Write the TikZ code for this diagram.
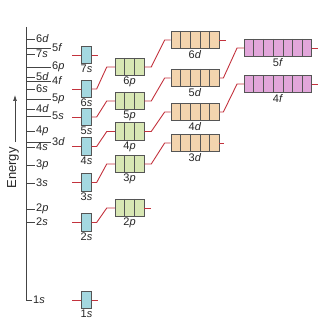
\documentclass[tikz,border=0pt]{standalone}
\usepackage{fontspec}
\setmainfont{Liberation Sans}
\usetikzlibrary{calc,arrows.meta}
\definecolor{sfill}{HTML}{A4D8E0}
\definecolor{pfill}{HTML}{D8E7B4}
\definecolor{dfill}{HTML}{F3D4AE}
\definecolor{ffill}{HTML}{E2A6DA}
\definecolor{redline}{HTML}{C3323D}
\definecolor{edge}{HTML}{555555}
\definecolor{axisc}{HTML}{444444}
\newcommand\olab[2]{#1\textit{#2}}
\newcommand\orb[6]{%
  \node[obox,fill=#5,minimum width=#4*9.6pt] (#1) at (#2,#3) {};
  \ifnum#4>1
    \pgfmathtruncatemacro\nm{#4-1}%
    \foreach \k in {1,...,\nm}{\draw[edge,line width=0.7pt] ($(#1.north west)!\k/#4!(#1.north east)$) -- ($(#1.south west)!\k/#4!(#1.south east)$);}%
  \fi
  \node[lab,anchor=north,inner sep=0.8pt] (#1l) at (#1.south) {#6};
}
\newcommand\tick[3]{% y, end x, label
  \draw[axisln] (26,#1) -- (#2,#1);
  \node[lab,anchor=west,inner sep=1pt] at (#2,#1) {#3};
}
\begin{document}
\begin{tikzpicture}[x=1pt,y=-1pt,
  obox/.style={draw=edge,line width=0.7pt,rectangle,inner sep=0pt,minimum height=17.5pt},
  lab/.style={font=\fontsize{11}{13}\selectfont,text=black!85},
  conn/.style={draw=redline,line width=0.9pt},
  axisln/.style={draw=axisc,line width=0.7pt}]
\useasboundingbox (0,0) rectangle (321,326);
% energy axis
\coordinate (atop) at (26,27);
\coordinate (abot) at (26,300);
\coordinate (afoot) at (32,300);
\draw[axisln] (atop) -- (abot) -- (afoot);
\node[lab,anchor=west,inner sep=1pt] (l1s) at (afoot) {\olab{1}{s}};
\tick{39}{35}{\olab{6}{d}}
\tick{48}{51}{\olab{5}{f}}
\tick{54}{35}{\olab{7}{s}}
\tick{67}{51}{\olab{6}{p}}
\tick{77}{35}{\olab{5}{d}}
\tick{81}{51}{\olab{4}{f}}
\tick{89}{35}{\olab{6}{s}}
\tick{99}{51}{\olab{5}{p}}
\tick{109}{35}{\olab{4}{d}}
\tick{116}{51}{\olab{5}{s}}
\tick{131}{35}{\olab{4}{p}}
\tick{142}{51}{\olab{3}{d}}
\tick{147}{35}{\olab{4}{s}}
\tick{165}{35}{\olab{3}{p}}
\tick{183}{35}{\olab{3}{s}}
\tick{209}{35}{\olab{2}{p}}
\tick{222}{35}{\olab{2}{s}}
% Energy arrow
\coordinate (arrb) at (15,142);
\coordinate (arrt) at (15,95);
\draw[axisln,-{Latex[length=6pt,width=4pt]}] (arrb) -- (arrt);
\node[font=\fontsize{13}{15}\selectfont,text=black!85,rotate=90] (energy) at (13,168) {Energy};
% orbitals
\orb{s7}{86.5}{55}{1}{sfill}{\olab{7}{s}}
\orb{s6}{86.5}{89}{1}{sfill}{\olab{6}{s}}
\orb{s5}{86.5}{117}{1}{sfill}{\olab{5}{s}}
\orb{s4}{86.5}{146.5}{1}{sfill}{\olab{4}{s}}
\orb{s3}{86.5}{182.5}{1}{sfill}{\olab{3}{s}}
\orb{s2}{86.5}{222.5}{1}{sfill}{\olab{2}{s}}
\orb{s1}{86.5}{300}{1}{sfill}{\olab{1}{s}}
\orb{p6}{129.5}{67}{3}{pfill}{\olab{6}{p}}
\orb{p5}{129.5}{101}{3}{pfill}{\olab{5}{p}}
\orb{p4}{129.5}{131.5}{3}{pfill}{\olab{4}{p}}
\orb{p3}{129.5}{164}{3}{pfill}{\olab{3}{p}}
\orb{p2}{129.5}{208}{3}{pfill}{\olab{2}{p}}
\orb{d6}{195}{40}{5}{dfill}{\olab{6}{d}}
\orb{d5}{195}{78}{5}{dfill}{\olab{5}{d}}
\orb{d4}{195}{112}{5}{dfill}{\olab{4}{d}}
\orb{d3}{195}{143}{5}{dfill}{\olab{3}{d}}
\orb{f5}{278}{48}{7}{ffill}{\olab{5}{f}}
\orb{f4}{278}{84}{7}{ffill}{\olab{4}{f}}
% left stubs of s
\foreach \n in {s7,s6,s5,s4,s3,s2,s1}{\draw[conn] (\n.west) -- ++(-9,0);}
% s right
\draw[conn] (s7.east) -- ++(6,0);
\draw[conn] (s1.east) -- ++(6,0);
\foreach \a/\b in {s6/p6,s5/p5,s4/p4,s3/p3,s2/p2}{\draw[conn] (\a.east) -- ++(5,0) -- ($(\b.west)+(-8,0)$) -- (\b.west);}
% p right
\foreach \a/\b in {p6/d6,p5/d5,p4/d4,p3/d3}{\draw[conn] (\a.east) -- ++(7,0) -- ($(\b.west)+(-6,0)$) -- (\b.west);}
\draw[conn] (p2.east) -- ++(7,0);
% d right
\foreach \a/\b in {d5/f5,d4/f4}{\draw[conn] (\a.east) -- ++(4,0) -- ($(\b.west)+(-7,0)$) -- (\b.west);}
\draw[conn] (d6.east) -- ++(7,0);
\draw[conn] (d3.east) -- ++(5,0);
% f right
\draw[conn] (f5.east) -- ++(6,0);
\draw[conn] (f4.east) -- ++(6,0);
\end{tikzpicture}
\end{document}
